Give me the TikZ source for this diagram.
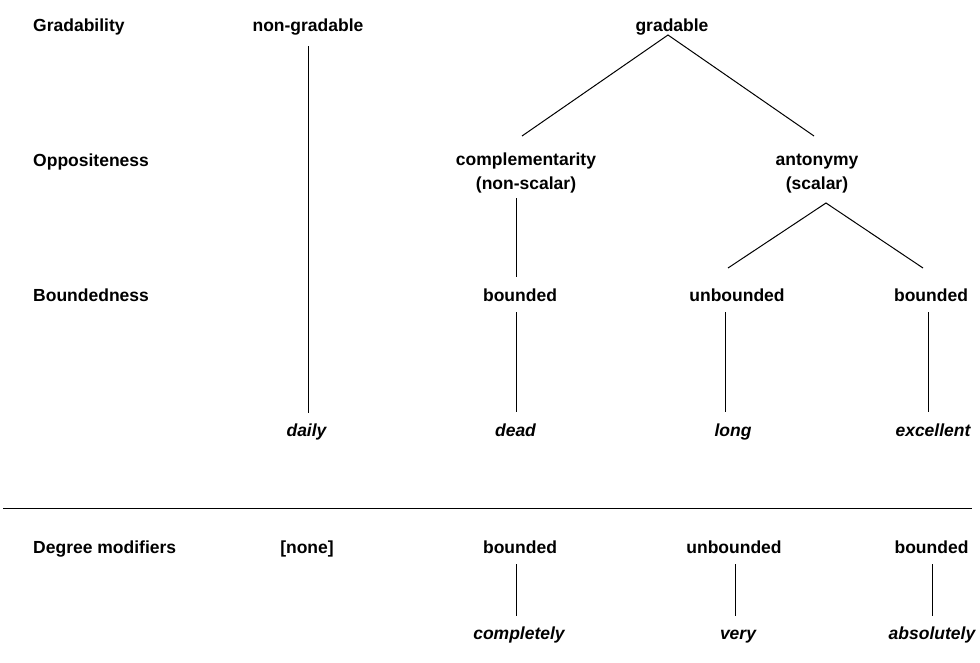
\documentclass[tikz,border=0pt]{standalone}
\usepackage{fontspec}
\setmainfont{Liberation Sans}
\begin{document}
\begin{tikzpicture}[x=1pt,y=-1pt,
  lbl/.style={inner sep=0pt, anchor=base, font=\fontsize{17.5}{23.5}\selectfont\bfseries, align=center},
  rowlbl/.style={lbl, anchor=base west},
  ex/.style={lbl, font=\fontsize{17.5}{23.5}\selectfont\bfseries\itshape},
  edge/.style={line width=1pt, black}]
\useasboundingbox[fill=white] (0,0) rectangle (980,662);
% row labels
\node[rowlbl] (gradability) at (33,31) {Gradability};
\node[rowlbl] (opp) at (33,166.5) {Oppositeness};
\node[rowlbl] (bnd) at (33,301) {Boundedness};
\node[rowlbl] (deg) at (33,553.5) {Degree modifiers};
% tree nodes
\node[lbl] (nongrad) at (308,31) {non-gradable};
\node[lbl] (grad) at (672,31) {gradable};
\node[lbl] (comp) at (526,189) {complementarity\\(non-scalar)};
\node[lbl] (anto) at (817,189) {antonymy\\(scalar)};
\node[lbl] (b1) at (520,301) {bounded};
\node[lbl] (u1) at (737,301) {unbounded};
\node[lbl] (b2) at (931,301) {bounded};
\node[ex] (daily) at (306.5,436) {daily};
\node[ex] (dead) at (515.5,436) {dead};
\node[ex] (long) at (733,436) {long};
\node[ex] (exc) at (933,436) {excellent};
% degree modifiers
\node[lbl] (none) at (307,553.5) {[none]};
\node[lbl] (b3) at (520,553.5) {bounded};
\node[lbl] (u3) at (734,553.5) {unbounded};
\node[lbl] (b4) at (931.5,553.5) {bounded};
\node[ex] (compl) at (519,639.5) {completely};
\node[ex] (very) at (738,639.5) {very};
\node[ex] (abs) at (932,639.5) {absolutely};
% connectors
\draw[edge] ([shift={(0,15)}]nongrad.base) -- ([shift={(1.5,-23)}]daily.base);
\draw[edge] ([shift={(-4,-53)}]comp.base) -- ([shift={(-4,4)}]grad.base) -- ([shift={(-3,-53)}]anto.base);
\draw[edge] ([shift={(-10,9)}]comp.base) -- ([shift={(-4,-24)}]b1.base);
\draw[edge] ([shift={(-9,-33)}]u1.base) -- ([shift={(9,14)}]anto.base) -- ([shift={(-8,-33)}]b2.base);
\draw[edge] ([shift={(-4,11)}]b1.base) -- ([shift={(0.5,-24)}]dead.base);
\draw[edge] ([shift={(-12,11)}]u1.base) -- ([shift={(-8,-24)}]long.base);
\draw[edge] ([shift={(-3,11)}]b2.base) -- ([shift={(-5,-24)}]exc.base);
\draw[edge] (3,508) -- (972,508);
\draw[edge] ([shift={(-4,10.5)}]b3.base) -- ([shift={(-3,-23.5)}]compl.base);
\draw[edge] ([shift={(1.5,10.5)}]u3.base) -- ([shift={(-2.5,-23.5)}]very.base);
\draw[edge] ([shift={(1,10.5)}]b4.base) -- ([shift={(0.5,-23.5)}]abs.base);
\end{tikzpicture}
\end{document}
